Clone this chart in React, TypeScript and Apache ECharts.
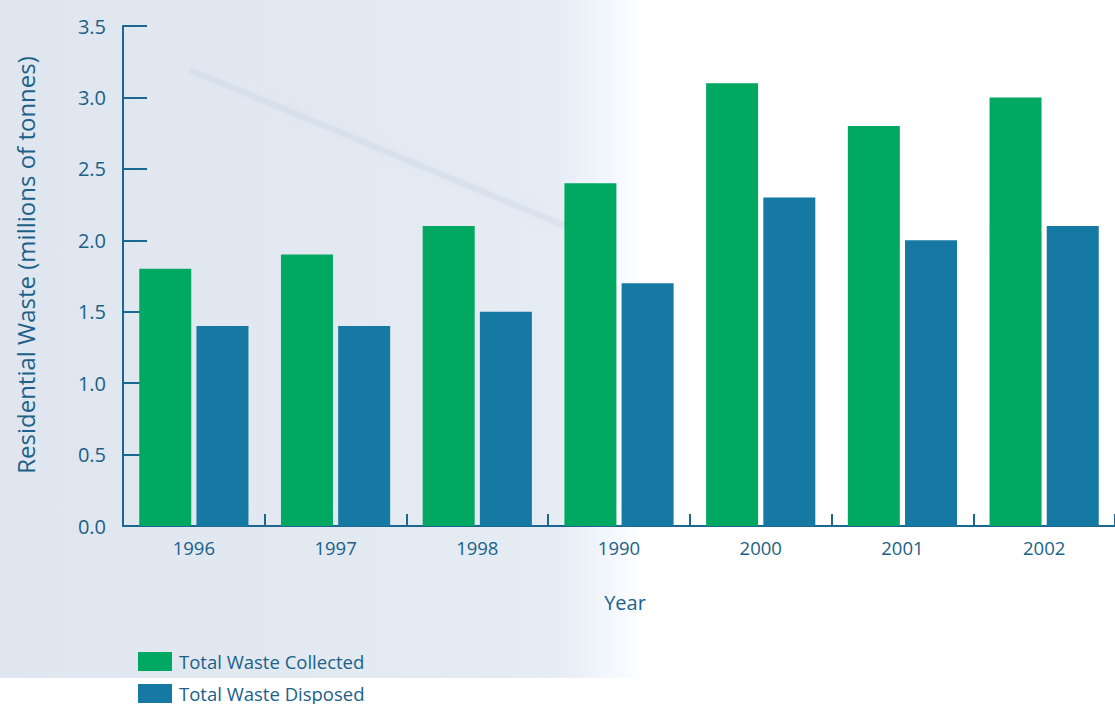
import React, { useEffect, useRef } from "react";
import * as echarts from "echarts";

const years = ["1996", "1997", "1998", "1990", "2000", "2001", "2002"];
const collected = [1.8, 1.9, 2.1, 2.4, 3.1, 2.8, 3.0];
const disposed = [1.4, 1.4, 1.5, 1.7, 2.3, 2.0, 2.1];
const seriesNames = ["Total Waste Collected", "Total Waste Disposed"];

const GREEN = "#00a862";
const BLUE = "#1579a3";
const AXIS = "#1b6791";
const TEXT = "#1b6189";
const FONT = "'Open Sans', sans-serif";

export default function App() {
  const ref = useRef<HTMLDivElement>(null);

  useEffect(() => {
    if (!ref.current) return;
    const chart = echarts.init(ref.current, null, { renderer: "svg" });
    chart.setOption({
      animation: false,
      backgroundColor: "#ffffff",
      textStyle: { fontFamily: FONT },
      graphic: [
        {
          type: "rect",
          z: -10,
          silent: true,
          shape: { x: 0, y: 0, width: 645, height: 678 },
          style: {
            fill: new echarts.graphic.LinearGradient(0, 0, 1, 0, [
              { offset: 0, color: "#dfe6ef" },
              { offset: 0.5, color: "#e2e9f1" },
              { offset: 0.86, color: "#e6ecf4" },
              { offset: 0.94, color: "#f2f6fd" },
              { offset: 1, color: "#ffffff" },
            ]),
          },
        },
        {
          type: "line",
          z: -9,
          silent: true,
          shape: { x1: 190, y1: 70, x2: 580, y2: 232 },
          style: {
            stroke: "rgba(196,207,226,0.3)",
            lineWidth: 6,
            shadowBlur: 8,
            shadowColor: "rgba(196,207,226,0.6)",
          },
        },
      ],
      grid: { left: 123, top: 26, width: 1001, height: 500, containLabel: false },
      legend: {
        orient: "vertical",
        left: 138,
        top: 652,
        icon: "rect",
        itemWidth: 34,
        itemHeight: 19,
        itemGap: 13,
        padding: 0,
        textStyle: {
          color: TEXT,
          fontSize: 18.5,
          lineHeight: 19,
          fontFamily: FONT,
          padding: [0, 0, 0, 2],
        },
        data: seriesNames,
      },
      xAxis: {
        type: "category",
        data: years,
        name: "Year",
        nameLocation: "middle",
        nameGap: 66,
        nameTextStyle: { color: TEXT, fontSize: 20, fontFamily: FONT, padding: [0, 0, 0, 12] },
        axisLine: { lineStyle: { color: AXIS, width: 2 } },
        axisTick: {
          show: true,
          inside: true,
          length: 12,
          interval: 0,
          lineStyle: { color: AXIS, width: 2 },
        },
        axisLabel: { color: TEXT, fontSize: 18.5, margin: 12, fontFamily: FONT },
        splitLine: { show: false },
      },
      yAxis: {
        type: "value",
        min: 0,
        max: 3.5,
        interval: 0.5,
        name: "Residential Waste (millions of tonnes)",
        nameLocation: "middle",
        nameRotate: 90,
        nameGap: 86,
        nameTextStyle: {
          color: TEXT,
          fontSize: 24,
          fontFamily: FONT,
          padding: [0, 0, 0, 22],
        },
        axisLine: { show: true, lineStyle: { color: AXIS, width: 2 } },
        axisTick: { show: true, inside: true, length: 24, lineStyle: { color: AXIS, width: 2 } },
        axisLabel: {
          color: TEXT,
          fontSize: 20,
          margin: 17,
          fontFamily: FONT,
          formatter: (v: number) => v.toFixed(1),
        },
        splitLine: { show: false },
      },
      series: [
        {
          name: seriesNames[0],
          type: "bar",
          data: collected,
          barWidth: 52,
          barGap: "10%",
          itemStyle: { color: GREEN },
        },
        {
          name: seriesNames[1],
          type: "bar",
          data: disposed,
          barWidth: 52,
          barGap: "10%",
          itemStyle: { color: BLUE },
        },
      ],
    });
    return () => chart.dispose();
  }, []);

  return (
    <div
      ref={ref}
      style={{ position: "fixed", left: 0, top: 0, width: 1115, height: 704 }}
    />
  );
}
